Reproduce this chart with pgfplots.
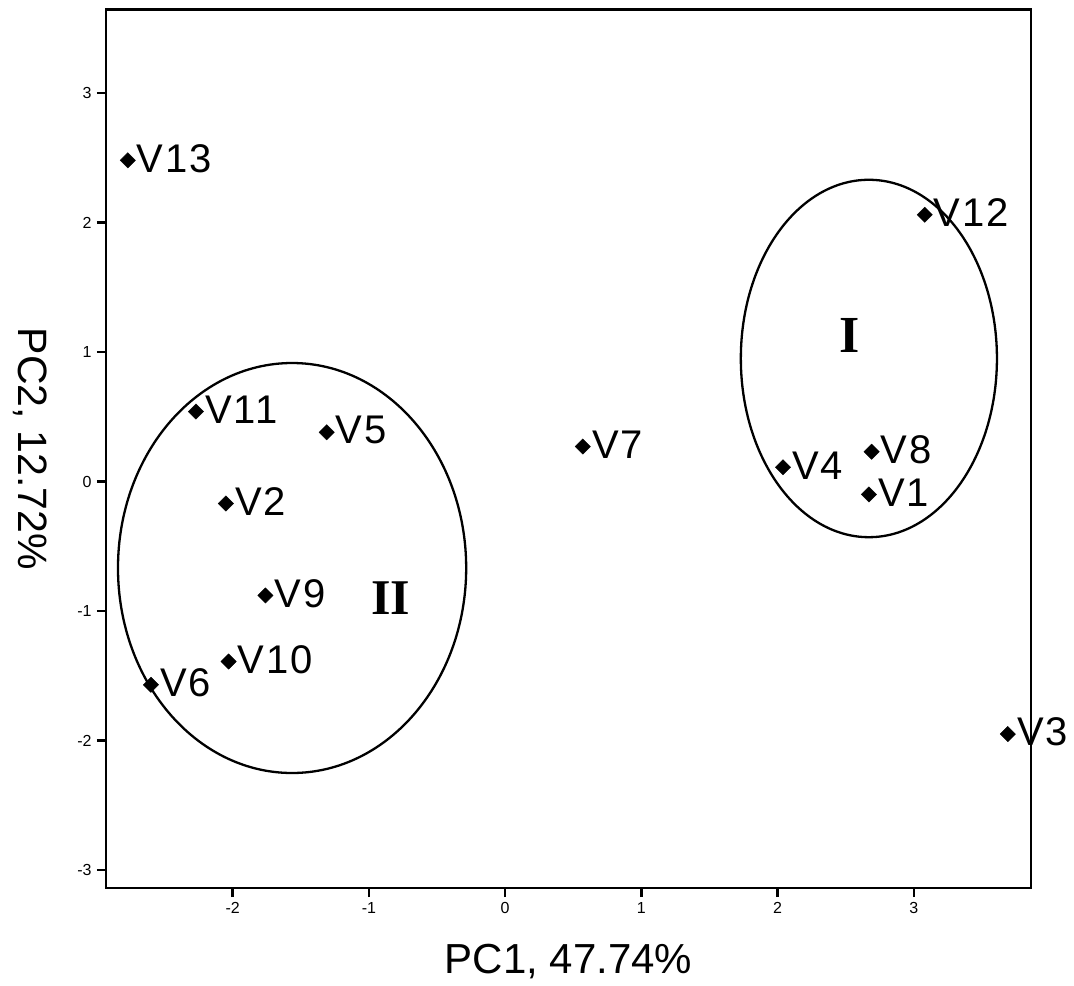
\documentclass[border=0pt]{standalone}
\usepackage{pgfplots}
\pgfplotsset{compat=1.18}
\usepackage{fontspec}
\setmainfont{Liberation Sans}
\newfontfamily\seriffont{Liberation Serif}
\newfontfamily\labelfont[LetterSpace=5]{Liberation Sans}
\pgfplotstableread{
x y label
-2.77 2.48 V13
3.08 2.06 V12
2.69 0.23 V8
2.04 0.11 V4
2.67 -0.10 V1
3.69 -1.95 V3
0.57 0.27 V7
-2.27 0.54 V11
-1.31 0.38 V5
-2.05 -0.17 V2
-1.76 -0.88 V9
-2.03 -1.39 V10
-2.60 -1.57 V6
}\pcadata
\begin{document}
\begin{tikzpicture}
\useasboundingbox (-106bp,-98bp) rectangle (968bp,888bp);
\begin{axis}[
  at={(0,0)}, anchor=south west,
  scale only axis, width=925bp, height=878.5bp,
  xmin=-2.93, xmax=3.86, ymin=-3.139, ymax=3.645,
  xtick={-2,-1,0,1,2,3}, ytick={-3,-2,-1,0,1,2,3},
  xtick pos=bottom, ytick pos=left,
  tick align=outside,
  major tick length=9bp,
  axis line style={line width=2.6bp},
  tick style={black, line width=2.6bp},
  major tick style={black, line width=2.6bp},
  /pgf/number format/assume math mode=true,
  tick label style={font=\fontsize{16bp}{18bp}\selectfont},
  xticklabel style={yshift=-2bp},
  yticklabel style={xshift=-2bp},
  xlabel={PC1, 47.74\%},
  ylabel={PC2, 12.72\%},
  xlabel style={at={(axis description cs:0.5,-0.0968)}, anchor=base, font=\fontsize{42bp}{48bp}\selectfont, inner sep=0pt},
  ylabel style={at={(axis description cs:-0.0951,0.5)}, anchor=base, rotate=-180, font=\fontsize{41bp}{48bp}\selectfont, inner sep=0pt},
  clip=false,
]
\addplot[only marks, mark=square*, mark options={rotate=45, fill=black, draw=black}, mark size=5.4bp,
  nodes near coords, point meta=explicit symbolic,
  every node near coord/.style={anchor=west, inner sep=0pt, xshift=9bp, yshift=2bp, font=\labelfont\fontsize{40bp}{46bp}\selectfont}]
  table[x=x, y=y, meta=label] {\pcadata};
\draw[line width=2.3bp] (axis cs:2.67,0.95) ellipse [x radius=0.94, y radius=1.38];
\draw[line width=2.3bp] (axis cs:-1.564,-0.668) ellipse [x radius=1.278, y radius=1.583];
\node[font=\seriffont\bfseries\fontsize{52bp}{56bp}\selectfont] at (axis cs:2.53,1.13) {I};
\node[font=\seriffont\bfseries\fontsize{50bp}{56bp}\selectfont] at (axis cs:-0.84,-0.90) {II};
\end{axis}
\end{tikzpicture}
\end{document}
